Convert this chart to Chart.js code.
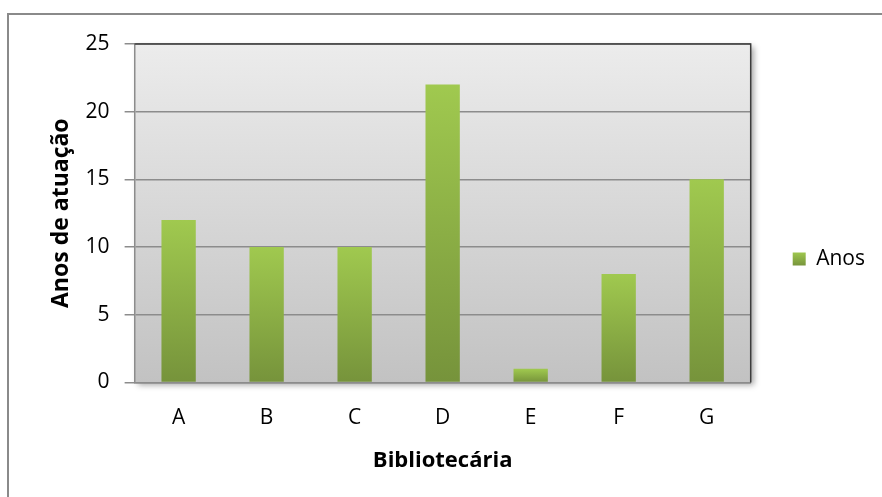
<!DOCTYPE html>
<html>
<head>
<meta charset="utf-8">
<script src="https://cdn.jsdelivr.net/npm/chart.js@4/dist/chart.umd.min.js"></script>
<style>
  html, body { margin: 0; padding: 0; background: #fff; overflow: hidden; }
  #wrap { position: relative; width: 882px; height: 497px; }
  #frame { position: absolute; left: 7px; top: 13px; width: 900px; height: 520px; border: 2px solid #8a8a8a; box-sizing: border-box; }
  canvas { position: absolute; left: 0; top: 0; }
</style>
</head>
<body>
<div id="wrap">
  <div id="frame"></div>
  <canvas id="barChart" width="882" height="497"></canvas>
</div>
<script>
const categories = ['A', 'B', 'C', 'D', 'E', 'F', 'G'];
const anos = [12, 10, 10, 22, 1, 8, 15];
const yTicks = [0, 5, 10, 15, 20, 25];

// plot area: gradient fill, shadow and border like the spreadsheet chart
const plotArea = {
    id: 'plotArea',
    beforeDraw(chart) {
        const { ctx, chartArea: a } = chart;
        ctx.save();
        ctx.shadowColor = 'rgba(0,0,0,0.35)';
        ctx.shadowBlur = 6;
        ctx.shadowOffsetX = 3;
        ctx.shadowOffsetY = 3;
        let g = ctx.createLinearGradient(0, a.top, 0, a.bottom);
        g.addColorStop(0, '#ececec');
        g.addColorStop(1, '#c2c2c2');
        ctx.fillStyle = g;
        ctx.fillRect(a.left, a.top, a.width, a.height);
        ctx.restore();
    },
    afterDatasetsDraw(chart) {
        const { ctx, chartArea: a } = chart;
        ctx.save();
        ctx.lineWidth = 1.5;
        ctx.strokeStyle = '#3c3c3c';
        ctx.beginPath();
        ctx.moveTo(a.left, a.top);
        ctx.lineTo(a.right, a.top);
        ctx.lineTo(a.right, a.bottom);
        ctx.stroke();
        ctx.restore();
    }
};

function barGradient(context) {
    const chart = context.chart;
    const y = chart.scales.y;
    if (!y || context.raw === undefined) return '#8fb446';
    const top = y.getPixelForValue(context.raw);
    const base = y.getPixelForValue(0);
    if (!isFinite(top) || !isFinite(base) || top === base) return '#8fb446';
    const g = chart.ctx.createLinearGradient(0, top, 0, base);
    g.addColorStop(0, '#a0c94f');
    g.addColorStop(1, '#76933b');
    return g;
}

const bar = document.getElementById('barChart').getContext('2d');
const chart = new Chart(bar, {
    type: 'bar',
    data: {
        labels: categories,
        datasets: [{
            label: 'Anos',
            data: anos,
            backgroundColor: barGradient,
            borderWidth: 0,
            categoryPercentage: 1,
            barPercentage: 0.39
        }]
    },
    options: {
        responsive: false,
        animation: false,
        devicePixelRatio: 1,
        layout: {
            padding: { top: 44, left: 10, right: 7, bottom: 23 }
        },
        plugins: {
            legend: {
                position: 'right',
                labels: {
                    boxWidth: 13,
                    boxHeight: 13,
                    padding: 42,
                    color: '#000',
                    font: { family: 'Open Sans', size: 21 },
                    generateLabels(c) {
                        return [{
                            text: 'Anos',
                            fontColor: '#000',
                            fillStyle: (() => {
                                const g = c.ctx.createLinearGradient(0, 252, 0, 266);
                                g.addColorStop(0, '#a0c94f');
                                g.addColorStop(1, '#76933b');
                                return g;
                            })(),
                            strokeStyle: 'rgba(0,0,0,0)',
                            lineWidth: 0,
                            hidden: false,
                            datasetIndex: 0
                        }];
                    }
                }
            },
            tooltip: { enabled: false }
        },
        scales: {
            x: {
                grid: { display: false, drawTicks: false },
                border: { display: true, color: '#8c8c8c', width: 1.5 },
                ticks: {
                    padding: 23,
                    color: '#000',
                    font: { family: 'Open Sans', size: 21 }
                },
                title: {
                    display: true,
                    text: 'Bibliotecária',
                    color: '#000',
                    font: { family: 'Open Sans', size: 22, weight: 'bold' },
                    padding: { top: -6, bottom: 0 }
                }
            },
            y: {
                min: 0,
                max: 25,
                afterBuildTicks(axis) {
                    axis.ticks = yTicks.map(v => ({ value: v }));
                },
                grid: {
                    color: '#8c8c8c',
                    lineWidth: 1.5,
                    tickLength: 10
                },
                border: { display: true, color: '#8c8c8c', width: 1.5 },
                ticks: {
                    padding: 15,
                    color: '#000',
                    font: { family: 'Open Sans', size: 21 }
                },
                title: {
                    display: true,
                    text: 'Anos de atuação',
                    color: '#000',
                    font: { family: 'Open Sans', size: 23, weight: 'bold' },
                    padding: { top: 38, bottom: -5 }
                }
            }
        }
    },
    plugins: [plotArea]
});
</script>
</body>
</html>
